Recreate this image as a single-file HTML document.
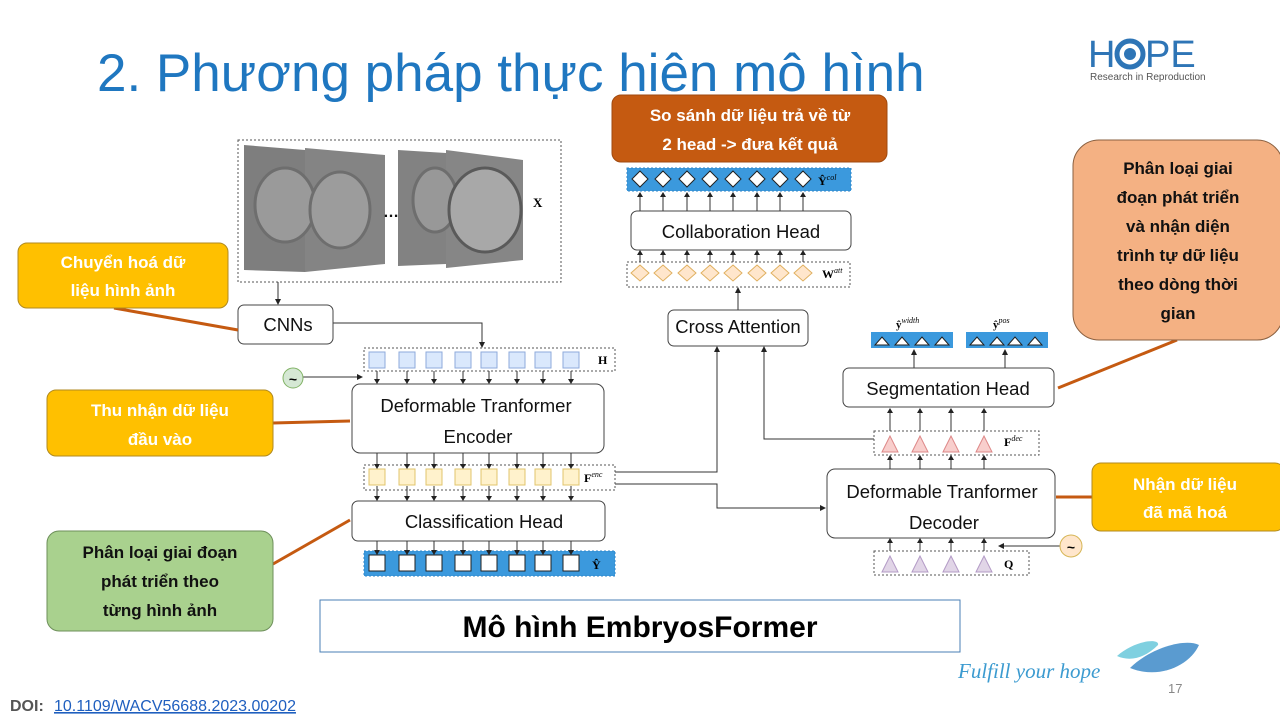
<!DOCTYPE html>
<html><head><meta charset="utf-8"><style>
html,body{margin:0;padding:0;background:#fff;}
body{width:1280px;height:720px;overflow:hidden;position:relative;font-family:"Liberation Sans","Noto Sans CJK SC",sans-serif;}
</style></head><body>
<svg width="1280" height="720" viewBox="0 0 1280 720" xmlns="http://www.w3.org/2000/svg" style="position:absolute;left:0;top:0">
<defs>
<marker id="a" markerWidth="6" markerHeight="6" refX="5" refY="3" orient="auto" markerUnits="userSpaceOnUse"><path d="M0,0 L6,3 L0,6 z" fill="#222"/></marker>
</defs>
<text x="97" y="91" font-size="53" fill="#1f77c0" font-family="Liberation Sans, sans-serif">2. Phương pháp thực hiện mô hình</text>

<!-- logo -->
<text x="1088" y="67" font-size="38" fill="#2e75b6" font-family="Liberation Sans, sans-serif">H</text>
<circle cx="1130" cy="54" r="13" fill="none" stroke="#2e75b6" stroke-width="5"/>
<circle cx="1130" cy="54" r="6" fill="#2e75b6"/>
<text x="1145" y="67" font-size="38" fill="#2e75b6" font-family="Liberation Sans, sans-serif">PE</text>
<text x="1090" y="80" font-size="10" fill="#555">Research in Reproduction</text>

<!-- image box -->
<rect x="238" y="140" width="323" height="142" fill="none" stroke="#555" stroke-dasharray="2,2"/>
<polygon points="244,145 305,150 305,272 244,270" fill="#7e7e7e"/>
<polygon points="305,148 385,155 385,264 305,272" fill="#848484"/>
<polygon points="398,150 446,153 446,264 398,266" fill="#828282"/>
<polygon points="446,150 523,160 523,260 446,268" fill="#868686"/>
<ellipse cx="285" cy="205" rx="30" ry="37" fill="#9a9a9a" stroke="#6e6e6e" stroke-width="3"/>
<ellipse cx="340" cy="210" rx="30" ry="38" fill="#9c9c9c" stroke="#6e6e6e" stroke-width="3"/>
<ellipse cx="435" cy="200" rx="22" ry="32" fill="#989898" stroke="#6e6e6e" stroke-width="3"/>
<ellipse cx="485" cy="210" rx="36" ry="42" fill="#a8a8a8" stroke="#5a5a5a" stroke-width="3"/>
<text x="383" y="217" font-size="16" fill="#111" font-weight="bold">…</text>
<text x="533" y="207" font-size="13" font-weight="bold" font-family="Liberation Serif, serif">X</text>

<g fill="none" stroke="#333" stroke-width="1">
<line x1="278" y1="282" x2="278" y2="304" marker-end="url(#a)"/>
<polyline points="333,323 482,323 482,347" marker-end="url(#a)"/>
<line x1="303" y1="377" x2="362" y2="377" marker-end="url(#a)"/>
<polyline points="615,472 717,472 717,347" marker-end="url(#a)"/>
<polyline points="615,484 717,484 717,508 825,508" marker-end="url(#a)"/>
<polyline points="874,439 764,439 764,347" marker-end="url(#a)"/>
<line x1="738" y1="310" x2="738" y2="288" marker-end="url(#a)"/>
<line x1="914" y1="368" x2="914" y2="350" marker-end="url(#a)"/>
<line x1="1005" y1="368" x2="1005" y2="350" marker-end="url(#a)"/>
<line x1="1060" y1="546" x2="999" y2="546" marker-end="url(#a)"/>
</g>

<!-- boxes -->
<g fill="#fff" stroke="#444" stroke-width="1">
<rect x="238" y="305" width="95" height="39" rx="6"/>
<rect x="352" y="384" width="252" height="69" rx="8"/>
<rect x="352" y="501" width="253" height="40" rx="6"/>
<rect x="668" y="310" width="140" height="36" rx="6"/>
<rect x="631" y="211" width="220" height="39" rx="6"/>
<rect x="843" y="368" width="211" height="39" rx="6"/>
<rect x="827" y="469" width="228" height="69" rx="8"/>
</g>
<g font-size="18.5" fill="#111" text-anchor="middle">
<text x="288" y="331">CNNs</text>
<text x="476" y="412">Deformable Tranformer</text>
<text x="478" y="443">Encoder</text>
<text x="484" y="528">Classification Head</text>
<text x="738" y="333">Cross  Attention</text>
<text x="741" y="238">Collaboration Head</text>
<text x="948" y="395">Segmentation Head</text>
<text x="942" y="498">Deformable Tranformer</text>
<text x="944" y="529">Decoder</text>
</g>

<!-- rows -->
<rect x="364" y="348" width="251" height="23" fill="none" stroke="#555" stroke-dasharray="2,2"/>
<rect x="364" y="465" width="251" height="25" fill="none" stroke="#555" stroke-dasharray="2,2"/>
<rect x="364" y="551" width="251" height="25" fill="#3b99dd" stroke="#2f86c8" stroke-dasharray="2,2"/>
<text x="598" y="364" font-size="12" font-weight="bold" font-family="Liberation Serif, serif">H</text>
<text x="584" y="482" font-size="12" font-weight="bold" font-family="Liberation Serif, serif">F<tspan font-size="8" font-style="italic" font-weight="normal" dy="-5">enc</tspan></text>
<text x="592" y="569" font-size="12" font-weight="bold" font-family="Liberation Serif, serif">Ŷ</text>
<g fill="#dae8fc" stroke="#8eaadb">
<rect x="369" y="352" width="16" height="16"/><rect x="399" y="352" width="16" height="16"/><rect x="426" y="352" width="16" height="16"/><rect x="455" y="352" width="16" height="16"/><rect x="481" y="352" width="16" height="16"/><rect x="509" y="352" width="16" height="16"/><rect x="535" y="352" width="16" height="16"/><rect x="563" y="352" width="16" height="16"/>
</g>
<g fill="#fff2cc" stroke="#e0c46c">
<rect x="369" y="469" width="16" height="16"/><rect x="399" y="469" width="16" height="16"/><rect x="426" y="469" width="16" height="16"/><rect x="455" y="469" width="16" height="16"/><rect x="481" y="469" width="16" height="16"/><rect x="509" y="469" width="16" height="16"/><rect x="535" y="469" width="16" height="16"/><rect x="563" y="469" width="16" height="16"/>
</g>
<g fill="#fff" stroke="#222">
<rect x="369" y="555" width="16" height="16"/><rect x="399" y="555" width="16" height="16"/><rect x="426" y="555" width="16" height="16"/><rect x="455" y="555" width="16" height="16"/><rect x="481" y="555" width="16" height="16"/><rect x="509" y="555" width="16" height="16"/><rect x="535" y="555" width="16" height="16"/><rect x="563" y="555" width="16" height="16"/>
</g>
<g stroke="#333" fill="none">
<path d="M377,371V383M407,371V383M434,371V383M463,371V383M489,371V383M517,371V383M543,371V383M571,371V383"/>
<path d="M377,453V468M407,453V468M434,453V468M463,453V468M489,453V468M517,453V468M543,453V468M571,453V468"/>
<path d="M377,486V500M407,486V500M434,486V500M463,486V500M489,486V500M517,486V500M543,486V500M571,486V500"/>
<path d="M377,541V554M407,541V554M434,541V554M463,541V554M489,541V554M517,541V554M543,541V554M571,541V554"/>
</g>
<g fill="#222">
<path d="M374,379h6l-3,5zM404,379h6l-3,5zM431,379h6l-3,5zM460,379h6l-3,5zM486,379h6l-3,5zM514,379h6l-3,5zM540,379h6l-3,5zM568,379h6l-3,5z"/>
<path d="M374,464h6l-3,5zM404,464h6l-3,5zM431,464h6l-3,5zM460,464h6l-3,5zM486,464h6l-3,5zM514,464h6l-3,5zM540,464h6l-3,5zM568,464h6l-3,5z"/>
<path d="M374,496h6l-3,5zM404,496h6l-3,5zM431,496h6l-3,5zM460,496h6l-3,5zM486,496h6l-3,5zM514,496h6l-3,5zM540,496h6l-3,5zM568,496h6l-3,5z"/>
<path d="M374,550h6l-3,5zM404,550h6l-3,5zM431,550h6l-3,5zM460,550h6l-3,5zM486,550h6l-3,5zM514,550h6l-3,5zM540,550h6l-3,5zM568,550h6l-3,5z"/>
</g>
<circle cx="293" cy="378" r="10" fill="#d5e8d4" stroke="#82b366"/>
<text x="293" y="384" font-size="14" font-weight="bold" text-anchor="middle">~</text>

<!-- collab rows -->
<rect x="627" y="168" width="224" height="23" fill="#3b99dd" stroke="#2f86c8" stroke-dasharray="2,2"/>
<rect x="627" y="262" width="223" height="25" fill="none" stroke="#555" stroke-dasharray="2,2"/>
<g fill="#fff" stroke="#222">
<path d="M640,171l8,8l-8,8l-8,-8zM663,171l8,8l-8,8l-8,-8zM687,171l8,8l-8,8l-8,-8zM710,171l8,8l-8,8l-8,-8zM733,171l8,8l-8,8l-8,-8zM757,171l8,8l-8,8l-8,-8zM780,171l8,8l-8,8l-8,-8zM803,171l8,8l-8,8l-8,-8z"/>
</g>
<g fill="#ffe6cc" stroke="#e0b060">
<path d="M640,265l9,8l-9,8l-9,-8zM663,265l9,8l-9,8l-9,-8zM687,265l9,8l-9,8l-9,-8zM710,265l9,8l-9,8l-9,-8zM733,265l9,8l-9,8l-9,-8zM757,265l9,8l-9,8l-9,-8zM780,265l9,8l-9,8l-9,-8zM803,265l9,8l-9,8l-9,-8z"/>
</g>
<text x="818" y="185" font-size="12" font-weight="bold" font-family="Liberation Serif, serif">Ŷ<tspan font-size="8" font-style="italic" font-weight="normal" dy="-5">col</tspan></text>
<text x="822" y="278" font-size="12" font-weight="bold" font-family="Liberation Serif, serif">W<tspan font-size="8" font-style="italic" font-weight="normal" dy="-5">att</tspan></text>
<g stroke="#333" fill="none">
<path d="M640,211V197M663,211V197M687,211V197M710,211V197M733,211V197M757,211V197M780,211V197M803,211V197"/>
<path d="M640,262V253M663,262V253M687,262V253M710,262V253M733,262V253M757,262V253M780,262V253M803,262V253"/>
</g>
<g fill="#222">
<path d="M637,197h6l-3,-5zM660,197h6l-3,-5zM684,197h6l-3,-5zM707,197h6l-3,-5zM730,197h6l-3,-5zM754,197h6l-3,-5zM777,197h6l-3,-5zM800,197h6l-3,-5z"/>
<path d="M637,255h6l-3,-5zM660,255h6l-3,-5zM684,255h6l-3,-5zM707,255h6l-3,-5zM730,255h6l-3,-5zM754,255h6l-3,-5zM777,255h6l-3,-5zM800,255h6l-3,-5z"/>
</g>

<!-- seg outputs -->
<rect x="871" y="332" width="82" height="16" fill="#3b99dd"/>
<rect x="966" y="332" width="82" height="16" fill="#3b99dd"/>
<g fill="#fff" stroke="#222">
<path d="M875,345l7,-8l7,8zM895,345l7,-8l7,8zM915,345l7,-8l7,8zM935,345l7,-8l7,8z"/>
<path d="M970,345l7,-8l7,8zM990,345l7,-8l7,8zM1008,345l7,-8l7,8zM1028,345l7,-8l7,8z"/>
</g>
<text x="896" y="328" font-size="11" font-weight="bold" font-family="Liberation Serif, serif">ŷ<tspan font-size="8" font-style="italic" font-weight="normal" dy="-5">width</tspan></text>
<text x="993" y="328" font-size="11" font-weight="bold" font-family="Liberation Serif, serif">ŷ<tspan font-size="8" font-style="italic" font-weight="normal" dy="-5">pos</tspan></text>

<!-- dec rows -->
<rect x="874" y="431" width="165" height="24" fill="none" stroke="#555" stroke-dasharray="2,2"/>
<rect x="874" y="551" width="155" height="24" fill="none" stroke="#555" stroke-dasharray="2,2"/>
<g fill="#f8cecc" stroke="#d88">
<path d="M882,452l8,-16l8,16zM912,452l8,-16l8,16zM943,452l8,-16l8,16zM976,452l8,-16l8,16z"/>
</g>
<g fill="#e1d5e7" stroke="#b39bc6">
<path d="M882,572l8,-16l8,16zM912,572l8,-16l8,16zM943,572l8,-16l8,16zM976,572l8,-16l8,16z"/>
</g>
<text x="1004" y="446" font-size="12" font-weight="bold" font-family="Liberation Serif, serif">F<tspan font-size="8" font-style="italic" font-weight="normal" dy="-5">dec</tspan></text>
<text x="1004" y="568" font-size="12" font-weight="bold" font-family="Liberation Serif, serif">Q</text>
<g stroke="#333" fill="none">
<path d="M890,431V412M920,431V412M951,431V412M984,431V412"/>
<path d="M890,469V459M920,469V459M951,469V459M984,469V459"/>
<path d="M890,551V542M920,551V542M951,551V542M984,551V542"/>
</g>
<g fill="#222">
<path d="M887,413h6l-3,-5zM917,413h6l-3,-5zM948,413h6l-3,-5zM981,413h6l-3,-5z"/>
<path d="M887,460h6l-3,-5zM917,460h6l-3,-5zM948,460h6l-3,-5zM981,460h6l-3,-5z"/>
<path d="M887,543h6l-3,-5zM917,543h6l-3,-5zM948,543h6l-3,-5zM981,543h6l-3,-5z"/>
</g>
<circle cx="1071" cy="546" r="11" fill="#ffe6cc" stroke="#d6b656"/>
<text x="1071" y="552" font-size="14" font-weight="bold" text-anchor="middle">~</text>

<!-- callout lines -->
<g stroke="#c55a11" stroke-width="3">
<line x1="114" y1="308" x2="238" y2="330"/>
<line x1="273" y1="423" x2="350" y2="421"/>
<line x1="273" y1="564" x2="350" y2="520"/>
<line x1="1177" y1="340" x2="1058" y2="388"/>
<line x1="1056" y1="497" x2="1092" y2="497"/>
</g>

<!-- callouts -->
<rect x="612" y="95" width="275" height="67" rx="9" fill="#c55a11" stroke="#a04a10"/>
<g font-size="17" font-weight="bold" fill="#fff" text-anchor="middle">
<text x="750" y="121">So sánh dữ liệu trả về từ</text>
<text x="750" y="150">2 head -&gt; đưa kết quả</text>
</g>
<rect x="18" y="243" width="210" height="65" rx="9" fill="#ffc000" stroke="#b08a20"/>
<g font-size="17" font-weight="bold" fill="#fff" text-anchor="middle">
<text x="123" y="268">Chuyển hoá dữ</text>
<text x="123" y="296">liệu hình ảnh</text>
</g>
<rect x="47" y="390" width="226" height="66" rx="9" fill="#ffc000" stroke="#b08a20"/>
<g font-size="17" font-weight="bold" fill="#fff" text-anchor="middle">
<text x="160" y="416">Thu nhận dữ liệu</text>
<text x="160" y="445">đầu vào</text>
</g>
<rect x="47" y="531" width="226" height="100" rx="12" fill="#a9d18e" stroke="#6d8f5a"/>
<g font-size="17" font-weight="bold" fill="#111" text-anchor="middle">
<text x="160" y="558">Phân loại giai đoạn</text>
<text x="160" y="587">phát triển theo</text>
<text x="160" y="616">từng hình ảnh</text>
</g>
<rect x="1073" y="140" width="210" height="200" rx="26" fill="#f4b183" stroke="#8a6040"/>
<g font-size="17" font-weight="bold" fill="#111" text-anchor="middle">
<text x="1178" y="174">Phân loại giai</text>
<text x="1178" y="203">đoạn phát triển</text>
<text x="1178" y="232">và nhận diện</text>
<text x="1178" y="261">trình tự dữ liệu</text>
<text x="1178" y="290">theo dòng thời</text>
<text x="1178" y="319">gian</text>
</g>
<rect x="1092" y="463" width="192" height="68" rx="9" fill="#ffc000" stroke="#b08a20"/>
<g font-size="17" font-weight="bold" fill="#fff" text-anchor="middle">
<text x="1185" y="490">Nhận dữ liệu</text>
<text x="1185" y="518">đã mã hoá</text>
</g>

<rect x="320" y="600" width="640" height="52" fill="#fff" stroke="#4a7fb5" stroke-width="1"/>
<text x="640" y="637" font-size="30" font-weight="bold" text-anchor="middle" fill="#000">Mô hình EmbryosFormer</text>

<!-- footer -->
<text x="958" y="678" font-size="21" fill="#3c9bd0" font-style="italic" font-family="Liberation Serif, serif">Fulfill your hope</text>
<path d="M1117,656 C1135,640 1160,638 1158,645 C1145,658 1130,662 1117,656z" fill="#7fd0e0"/>
<path d="M1130,668 C1150,648 1185,638 1199,645 C1190,665 1160,680 1130,668z" fill="#5a9bd0"/>
<text x="1168" y="693" font-size="13" fill="#888">17</text>
<text x="10" y="711" font-size="16" font-weight="bold" fill="#555">DOI:</text>
<text x="54" y="711" font-size="16" fill="#1f5fbf" text-decoration="underline">10.1109/WACV56688.2023.00202</text>
</svg>
</body></html>
